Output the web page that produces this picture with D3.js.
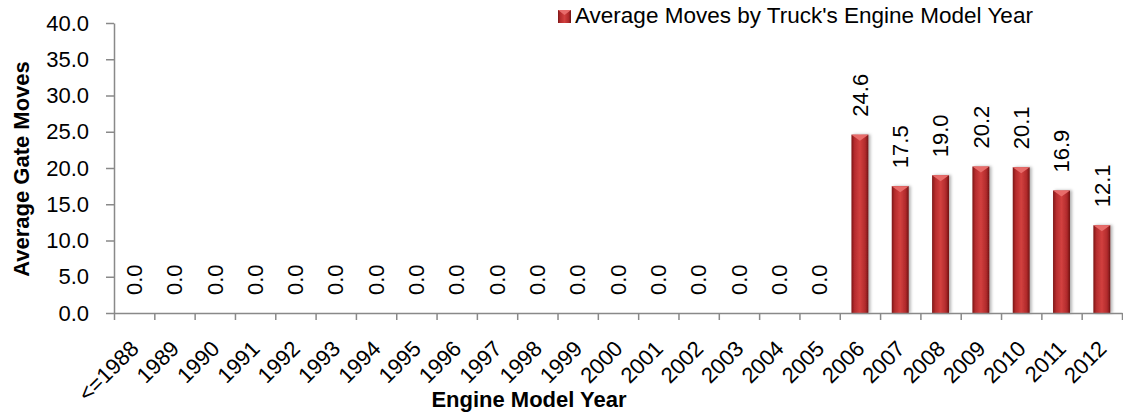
<!DOCTYPE html>
<html lang="en">
<head>
    <meta charset="UTF-8">
    <title>Average Moves by Truck's Engine Model Year</title>
    <script src="https://d3js.org/d3.v7.min.js"></script>
    <style>
        body { margin: 0; background: #fff; }
        svg { display: block; font-family: "Liberation Sans", Arial, sans-serif; }
    </style>
</head>
<body>
    <svg width="1123" height="416"></svg>

    <script>
        // Chart data
        const years = ["<=1988", "1989", "1990", "1991", "1992", "1993", "1994", "1995", "1996",
            "1997", "1998", "1999", "2000", "2001", "2002", "2003", "2004", "2005",
            "2006", "2007", "2008", "2009", "2010", "2011", "2012"];
        const avgMoves = [0, 0, 0, 0, 0, 0, 0, 0, 0, 0, 0, 0, 0, 0, 0, 0, 0, 0,
            24.6, 17.5, 19.0, 20.2, 20.1, 16.9, 12.1];
        const yTicks = [0, 5, 10, 15, 20, 25, 30, 35, 40];
        const seriesName = "Average Moves by Truck's Engine Model Year";

        const width = 1123;
        const height = 416;
        const margin = {top: 23, right: 1, bottom: 103, left: 114};

        const svg = d3.select("svg")
            .attr("width", width)
            .attr("height", height);

        const axisColor = "#898989";

        // Gradients for the cylinder-ish Excel bars
        const defs = svg.append("defs");
        const grad = defs.append("linearGradient")
            .attr("id", "barGrad")
            .attr("x1", "0%").attr("x2", "100%")
            .attr("y1", "0%").attr("y2", "0%");
        grad.append("stop").attr("offset", "0%").attr("stop-color", "#7c1616");
        grad.append("stop").attr("offset", "18%").attr("stop-color", "#b52c2d");
        grad.append("stop").attr("offset", "50%").attr("stop-color", "#d2403f");
        grad.append("stop").attr("offset", "82%").attr("stop-color", "#b02a2b");
        grad.append("stop").attr("offset", "100%").attr("stop-color", "#6f1313");

        const shadow = defs.append("filter")
            .attr("id", "barShadow")
            .attr("x", "-30%").attr("y", "-5%")
            .attr("width", "170%").attr("height", "110%");
        shadow.append("feDropShadow")
            .attr("dx", 2).attr("dy", 0)
            .attr("stdDeviation", 1.5)
            .attr("flood-color", "#000")
            .attr("flood-opacity", 0.3);

        // Scales
        const x = d3.scaleBand()
            .domain(years)
            .range([margin.left, width - margin.right])
            .paddingInner(0.58)
            .paddingOuter(0.29);

        const xEdge = d3.scaleLinear()
            .domain([0, years.length])
            .range([margin.left, width - margin.right]);

        const y = d3.scaleLinear()
            .domain([0, 40])
            .range([height - margin.bottom, margin.top]);

        // Bars
        const bars = svg.append("g")
            .selectAll("g.bar")
            .data(years.map((yr, i) => ({year: yr, value: avgMoves[i]})).filter(d => d.value > 0))
            .enter()
            .append("g")
            .attr("class", "bar")
            .attr("filter", "url(#barShadow)");

        bars.append("rect")
            .attr("x", d => x(d.year))
            .attr("y", d => y(d.value))
            .attr("width", x.bandwidth())
            .attr("height", d => y(0) - y(d.value))
            .attr("fill", "url(#barGrad)");

        // lighter bevel triangle on top of each bar
        bars.append("path")
            .attr("d", d => {
                const x0 = x(d.year), x1 = x0 + x.bandwidth(), top = y(d.value);
                return `M${x0},${top}L${x1},${top}L${(x0 + x1) / 2},${top + 6}Z`;
            })
            .attr("fill", "#e86c6b");

        // Data labels (rotated)
        svg.append("g")
            .selectAll("text")
            .data(years.map((yr, i) => ({year: yr, value: avgMoves[i]})))
            .enter()
            .append("text")
            .attr("transform", d => `translate(${x(d.year) + x.bandwidth() / 2},${y(d.value) - 18}) rotate(-90)`)
            .attr("dy", "0.35em")
            .attr("text-anchor", "start")
            .style("font-size", "22px")
            .style("fill", "#000")
            .text(d => d.value.toFixed(1));

        // Y axis
        const yAxis = svg.append("g")
            .attr("transform", `translate(${margin.left},0)`)
            .call(d3.axisLeft(y)
                .tickValues(yTicks)
                .tickFormat(d3.format(".1f"))
                .tickSize(8)
                .tickSizeOuter(0)
                .tickPadding(17));
        yAxis.selectAll("text")
            .style("font-size", "22px")
            .style("font-family", "\"Liberation Sans\", Arial, sans-serif")
            .attr("fill", "#000");
        yAxis.selectAll("line").attr("stroke", axisColor).attr("stroke-width", 1.5);
        yAxis.select(".domain").attr("stroke", axisColor).attr("stroke-width", 1.5);

        // X axis: tick marks on category boundaries
        const xTicksG = svg.append("g")
            .attr("transform", `translate(0,${y(0)})`)
            .call(d3.axisBottom(xEdge)
                .tickValues(d3.range(years.length + 1))
                .tickFormat("")
                .tickSize(7)
                .tickSizeOuter(0));
        xTicksG.selectAll("line").attr("stroke", axisColor).attr("stroke-width", 1.5);
        xTicksG.select(".domain").attr("stroke", axisColor).attr("stroke-width", 1.5);

        // X axis labels (rotated -45)
        const xAxis = svg.append("g")
            .attr("transform", `translate(0,${y(0)})`)
            .call(d3.axisBottom(x).tickSize(0).tickPadding(0));
        xAxis.select(".domain").remove();
        xAxis.selectAll("text")
            .style("font-size", "22px")
            .style("font-family", "\"Liberation Sans\", Arial, sans-serif")
            .attr("fill", "#000")
            .attr("text-anchor", "end")
            .attr("x", 0).attr("y", 0).attr("dy", 0)
            .attr("transform", "translate(6,37) rotate(-45)");

        // Axis titles
        svg.append("text")
            .attr("text-anchor", "middle")
            .attr("transform", `translate(29,${(margin.top + y(0)) / 2 + 1}) rotate(-90)`)
            .style("font-size", "22px")
            .style("font-weight", "bold")
            .text("Average Gate Moves");

        svg.append("text")
            .attr("text-anchor", "middle")
            .attr("x", 529)
            .attr("y", 407)
            .style("font-size", "22px")
            .style("font-weight", "bold")
            .text("Engine Model Year");

        // Legend
        const legend = svg.append("g").attr("transform", "translate(558,10)");
        legend.append("rect")
            .attr("width", 13)
            .attr("height", 13)
            .attr("fill", "url(#barGrad)");
        legend.append("path")
            .attr("d", "M0,0L13,0L6.5,5Z")
            .attr("fill", "#e86c6b");
        legend.append("text")
            .attr("x", 17)
            .attr("y", 13)
            .style("font-size", "22.5px")
            .text(seriesName);
    </script>
</body>
</html>
